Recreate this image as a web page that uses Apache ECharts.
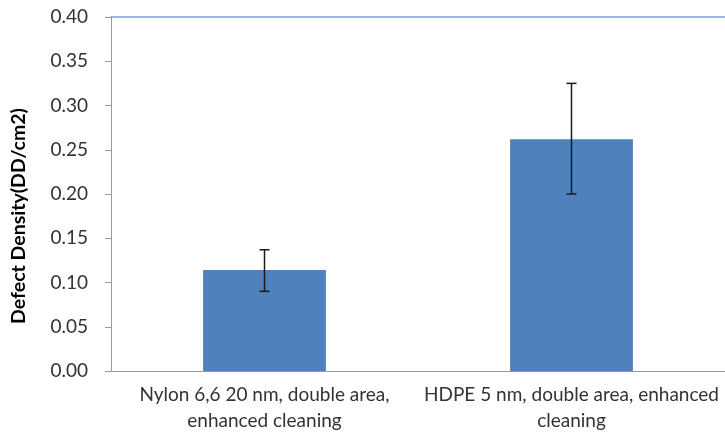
<!DOCTYPE html>
<html>
<head>
<meta charset="utf-8">
<script src="https://cdn.jsdelivr.net/npm/echarts@6/dist/echarts.min.js"></script>
<style>html,body{margin:0;padding:0;background:#fff}#c{width:725px;height:435px}</style>
</head>
<body>
<div id="c"></div>
<script>
var categories = ['Nylon 6,6 20 nm, double area,\nenhanced cleaning', 'HDPE 5 nm, double area, enhanced\ncleaning'];
var values = [0.114, 0.262];
var errLow = [0.090, 0.200];
var errHigh = [0.137, 0.325];
var yTicks = [0, 0.05, 0.10, 0.15, 0.20, 0.25, 0.30, 0.35, 0.40];
var yTitle = 'Defect Density(DD/cm2)';

var chart = echarts.init(document.getElementById('c'), null, {renderer: 'canvas'});
var font = 'Lato, "Open Sans", sans-serif';
var errData = categories.map(function (c, i) { return [i, errLow[i], errHigh[i]]; });

chart.setOption({
  animation: false,
  grid: {left: 111, right: 0, top: 17, bottom: 64},
  xAxis: [{
    type: 'category',
    data: categories,
    axisLine: {lineStyle: {color: '#9a9a9a', width: 1}},
    axisTick: {length: 6, lineStyle: {color: '#9a9a9a'}},
    axisLabel: {color: '#333', fontFamily: font, fontSize: 19, lineHeight: 26, margin: 11, interval: 0}
  }, {
    type: 'category',
    data: categories,
    position: 'top',
    axisLine: {lineStyle: {color: '#7f9ed6', width: 1.5}},
    axisTick: {show: false},
    axisLabel: {show: false}
  }],
  yAxis: {
    type: 'value',
    min: yTicks[0],
    max: yTicks[yTicks.length - 1],
    interval: 0.05,
    axisLine: {show: true, lineStyle: {color: '#9a9a9a'}},
    axisTick: {show: true, length: 6, lineStyle: {color: '#9a9a9a'}},
    splitLine: {show: false},
    axisLabel: {color: '#333', fontFamily: font, fontSize: 19, margin: 23,
      formatter: function (v) { return v.toFixed(2); }}
  },
  graphic: [{
    type: 'text',
    x: 19, y: 216,
    rotation: Math.PI / 2,
    style: {text: yTitle, font: 'bold 19.5px ' + font, fill: '#000', align: 'center', verticalAlign: 'middle'}
  }],
  series: [{
    type: 'bar',
    data: values,
    barWidth: '40%',
    itemStyle: {color: '#4f81bd'}
  }, {
    type: 'custom',
    data: errData,
    z: 10,
    renderItem: function (params, api) {
      var x = api.value(0);
      var lo = api.coord([x, api.value(1)]);
      var hi = api.coord([x, api.value(2)]);
      var hw = 5;
      var st = {stroke: '#1a1a1a', lineWidth: 1.5};
      return {type: 'group', children: [
        {type: 'line', shape: {x1: lo[0], y1: lo[1], x2: hi[0], y2: hi[1]}, style: st},
        {type: 'line', shape: {x1: lo[0] - hw, y1: lo[1], x2: lo[0] + hw, y2: lo[1]}, style: st},
        {type: 'line', shape: {x1: hi[0] - hw, y1: hi[1], x2: hi[0] + hw, y2: hi[1]}, style: st}
      ]};
    }
  }]
});
</script>
</body>
</html>
